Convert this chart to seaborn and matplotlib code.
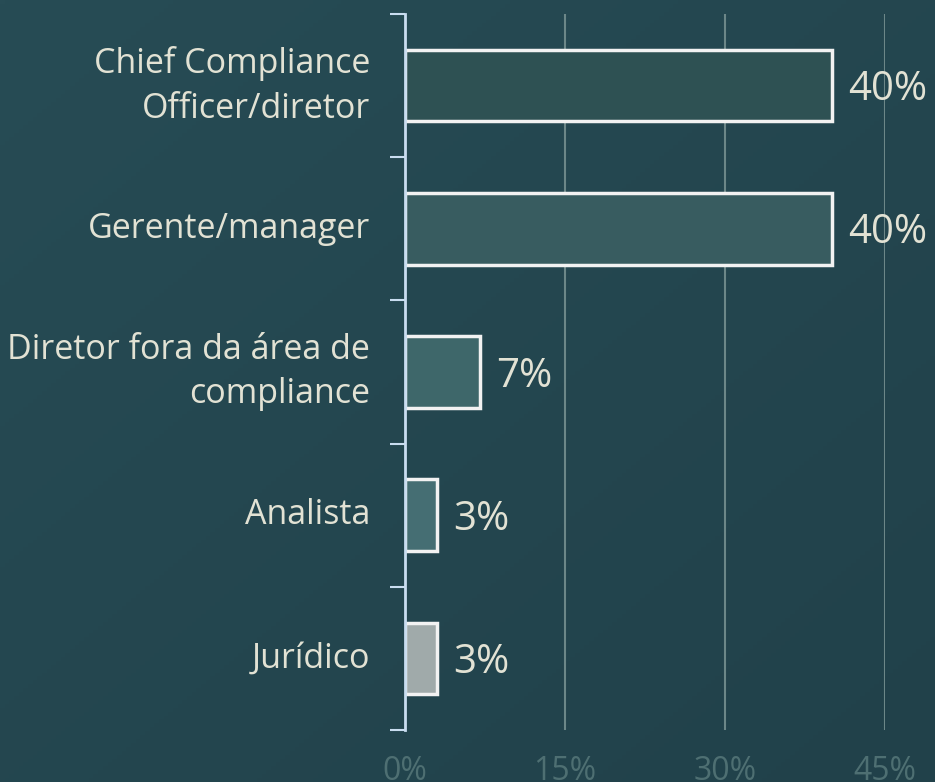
import numpy as np
import pandas as pd
import matplotlib
matplotlib.use("Agg")
import matplotlib.pyplot as plt
import seaborn as sns

categories = ["Chief Compliance\nOfficer/diretor", "Gerente/manager",
              "Diretor fora da área de\ncompliance", "Analista", "Jurídico"]
values = [40, 40, 7, 3, 3]
bar_colors = ["#2E5153", "#385C60", "#3E676A", "#456E73", "#A0AAAA"]
xticks = [0, 15, 30, 45]
xtick_labels = ["0%", "15%", "30%", "45%"]

sns.set_theme(style="white")
plt.rcParams['font.family'] = ['Open Sans', 'DejaVu Sans']

text_color = "#E2E2D4"
fig = plt.figure(figsize=(9.35, 7.82), dpi=100)

# background gradient
bg = fig.add_axes([0, 0, 1, 1])
yy, xx = np.mgrid[0:1:200j, 0:1:200j]
t = (xx + yy) / 2  # 0 top-left -> 1 bottom-right (origin upper)
c0 = np.array([0x27, 0x4C, 0x55]) / 255
c1 = np.array([0x21, 0x41, 0x4A]) / 255
img = c0[None, None, :] * (1 - t[..., None]) + c1[None, None, :] * t[..., None]
bg.imshow(img, aspect="auto", extent=[0, 1, 0, 1], origin="upper")
bg.axis("off")

ax = fig.add_axes([405 / 935, 52 / 782, 480 / 935, 716 / 782])
ax.set_facecolor("none")

df = pd.DataFrame({"cat": categories, "val": values})
sns.barplot(data=df, x="val", y="cat", hue="cat", palette=bar_colors,
            orient="h", width=0.5, edgecolor="#F2F2F2", linewidth=2.5,
            saturation=1, legend=False, ax=ax, zorder=3)

ax.set_xlim(0, 45)
ax.set_ylim(len(categories) - 0.5, -0.5)
ax.set_xticks(xticks)
ax.set_xticklabels(xtick_labels, color="#4E6F72", fontsize=23)
ax.tick_params(axis="x", length=0, pad=18)

# y ticks at category boundaries; labels at centers
ax.set_yticks(np.arange(-0.5, len(categories), 1.0))
ax.set_yticklabels([])
ax.set_yticks(np.arange(len(categories)), minor=True)
ax.set_yticklabels(categories, minor=True, fontsize=24.5, color=text_color,
                   linespacing=1.42, ha="right", va="center")
ax.tick_params(axis="y", which="major", left=True, length=11, width=1.5,
               color="#C9DDF0", direction="out")
ax.tick_params(axis="y", which="minor", left=True, length=0, pad=25)

for x in xticks[1:]:
    ax.axvline(x, color="#6C8788", linewidth=1.5, zorder=1)

for s in ["top", "right", "bottom"]:
    ax.spines[s].set_visible(False)
ax.spines["left"].set_color("#C9DDF0")
ax.spines["left"].set_linewidth(2)
ax.spines["left"].set_zorder(4)
ax.set_xlabel("")
ax.set_ylabel("")

for i, v in enumerate(values):
    ax.text(v + 1.5, i + 0.03, f"{v}%", va="center", ha="left", fontsize=29,
            color=text_color, clip_on=False)

fig.savefig("out.png", dpi=100)
